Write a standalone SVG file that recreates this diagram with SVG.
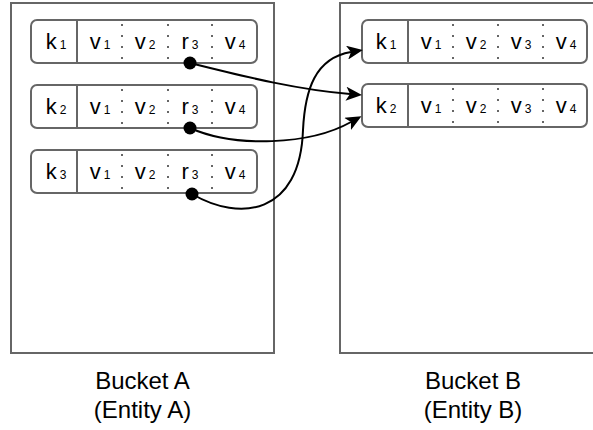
<svg xmlns="http://www.w3.org/2000/svg" width="593" height="430" viewBox="0 0 593 430">
<defs>
<style>
.bucket{fill:#fff;stroke:#666;stroke-width:2}
.row{fill:#fff;stroke:#666;stroke-width:2}
.div{stroke:#666;stroke-width:2}
.sep{stroke:#666;stroke-width:2;stroke-dasharray:2 9}
.t{font-family:"Liberation Sans",Arial,sans-serif;font-size:22px;fill:#000;text-anchor:middle}
.s{font-size:12px}
.lbl{font-family:"Liberation Sans",Arial,sans-serif;font-size:24px;fill:#000;text-anchor:middle}
.edge{fill:none;stroke:#000;stroke-width:2}
</style>
<marker id="arr" viewBox="0 0 16 14" refX="4" refY="7" markerWidth="16" markerHeight="14" markerUnits="userSpaceOnUse" orient="auto">
<path d="M0,0 L16,7 L0,14 L4,7 Z" fill="#000"/>
</marker>
</defs>
<rect width="593" height="430" fill="#fff"/>
<g id="bucketA">
<rect class="bucket" x="11" y="3" width="263" height="350"/>
<text class="lbl" x="142.5" y="389">Bucket A</text>
<text class="lbl" x="142.5" y="418">(Entity A)</text>
</g>
<g id="bucketB">
<rect class="bucket" x="340" y="3" width="266" height="350"/>
<text class="lbl" x="473" y="389">Bucket B</text>
<text class="lbl" x="473" y="418">(Entity B)</text>
</g>
<g id="a1">
<rect class="row" x="31" y="20" width="226" height="43" rx="6"/>
<line class="div" x1="77" y1="20" x2="77" y2="63"/>
<line class="sep" x1="122" y1="24" x2="122" y2="63"/>
<line class="sep" x1="168" y1="24" x2="168" y2="63"/>
<line class="sep" x1="212" y1="24" x2="212" y2="63"/>
<text class="t" x="56" y="49">k<tspan class="s" dx="3">1</tspan></text>
<text class="t" x="100" y="49">v<tspan class="s" dx="3">1</tspan></text>
<text class="t" x="145" y="49">v<tspan class="s" dx="3">2</tspan></text>
<text class="t" x="190" y="49">r<tspan class="s" dx="3">3</tspan></text>
<text class="t" x="235" y="49">v<tspan class="s" dx="3">4</tspan></text>
</g>
<g id="a2">
<rect class="row" x="31" y="85" width="226" height="43" rx="6"/>
<line class="div" x1="77" y1="85" x2="77" y2="128"/>
<line class="sep" x1="122" y1="89" x2="122" y2="128"/>
<line class="sep" x1="168" y1="89" x2="168" y2="128"/>
<line class="sep" x1="212" y1="89" x2="212" y2="128"/>
<text class="t" x="56" y="114">k<tspan class="s" dx="3">2</tspan></text>
<text class="t" x="100" y="114">v<tspan class="s" dx="3">1</tspan></text>
<text class="t" x="145" y="114">v<tspan class="s" dx="3">2</tspan></text>
<text class="t" x="190" y="114">r<tspan class="s" dx="3">3</tspan></text>
<text class="t" x="235" y="114">v<tspan class="s" dx="3">4</tspan></text>
</g>
<g id="a3">
<rect class="row" x="31" y="150" width="226" height="43" rx="6"/>
<line class="div" x1="77" y1="150" x2="77" y2="193"/>
<line class="sep" x1="122" y1="154" x2="122" y2="193"/>
<line class="sep" x1="168" y1="154" x2="168" y2="193"/>
<line class="sep" x1="212" y1="154" x2="212" y2="193"/>
<text class="t" x="56" y="179">k<tspan class="s" dx="3">3</tspan></text>
<text class="t" x="100" y="179">v<tspan class="s" dx="3">1</tspan></text>
<text class="t" x="145" y="179">v<tspan class="s" dx="3">2</tspan></text>
<text class="t" x="190" y="179">r<tspan class="s" dx="3">3</tspan></text>
<text class="t" x="235" y="179">v<tspan class="s" dx="3">4</tspan></text>
</g>
<g id="b1">
<rect class="row" x="362" y="20" width="225" height="43" rx="6"/>
<line class="div" x1="408" y1="20" x2="408" y2="63"/>
<line class="sep" x1="453" y1="24" x2="453" y2="63"/>
<line class="sep" x1="498" y1="24" x2="498" y2="63"/>
<line class="sep" x1="543" y1="24" x2="543" y2="63"/>
<text class="t" x="386" y="49">k<tspan class="s" dx="3">1</tspan></text>
<text class="t" x="431" y="49">v<tspan class="s" dx="3">1</tspan></text>
<text class="t" x="476" y="49">v<tspan class="s" dx="3">2</tspan></text>
<text class="t" x="521" y="49">v<tspan class="s" dx="3">3</tspan></text>
<text class="t" x="566" y="49">v<tspan class="s" dx="3">4</tspan></text>
</g>
<g id="b2">
<rect class="row" x="362" y="84" width="225" height="43" rx="6"/>
<line class="div" x1="408" y1="84" x2="408" y2="127"/>
<line class="sep" x1="453" y1="88" x2="453" y2="127"/>
<line class="sep" x1="498" y1="88" x2="498" y2="127"/>
<line class="sep" x1="543" y1="88" x2="543" y2="127"/>
<text class="t" x="386" y="113">k<tspan class="s" dx="3">2</tspan></text>
<text class="t" x="431" y="113">v<tspan class="s" dx="3">1</tspan></text>
<text class="t" x="476" y="113">v<tspan class="s" dx="3">2</tspan></text>
<text class="t" x="521" y="113">v<tspan class="s" dx="3">3</tspan></text>
<text class="t" x="566" y="113">v<tspan class="s" dx="3">4</tspan></text>
</g>
<g id="connectors">
<path class="edge" marker-end="url(#arr)" d="M190,63 C250,78 300,90 350,94"/>
<path class="edge" marker-end="url(#arr)" d="M190,128 C235,148 310,145 351,122"/>
<path class="edge" marker-end="url(#arr)" d="M192,194 C240,222 300,215 303,130 C305,90 315,58 351,52"/>
<circle cx="190" cy="63" r="6.5" fill="#000"/>
<circle cx="190" cy="128" r="6.5" fill="#000"/>
<circle cx="192" cy="194" r="6.5" fill="#000"/>
</g>
</svg>
